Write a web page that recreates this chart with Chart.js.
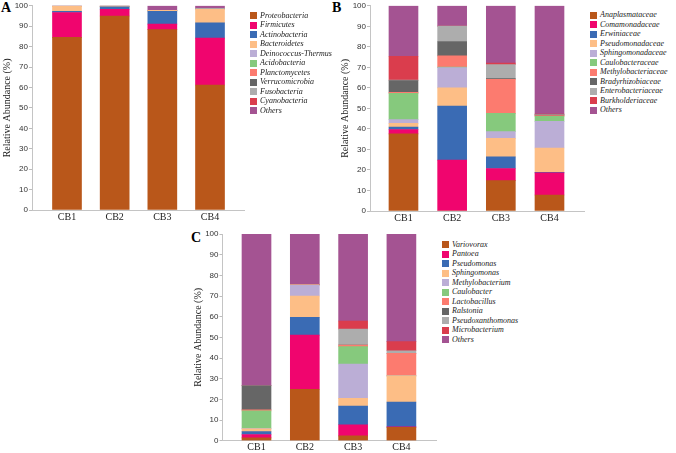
<!DOCTYPE html>
<html>
<head>
<meta charset="utf-8">
<script src="https://cdn.jsdelivr.net/npm/chart.js@4.4.1/dist/chart.umd.min.js"></script>
<style>
  body { margin:0; width:676px; height:453px; background:#fff; position:relative; overflow:hidden; }
  .panel { position:absolute; }
  .tag { position:absolute; font-family:'Liberation Serif', serif; font-weight:bold; font-size:14px; line-height:14px; color:#000; }
  .legend { position:absolute; font-family:'Liberation Serif', serif; font-style:italic; font-size:8px; color:#222; }
  .legend div { position:absolute; left:0; height:9.5px; line-height:9.5px; white-space:nowrap; }
  .legend span.box { position:absolute; left:0; top:1.5px; width:7px; height:7px; }
  .legend span.txt { position:absolute; left:10px; top:0; }
</style>
</head>
<body>
<div class="tag" style="left:1px;top:1px">A</div>
<div class="tag" style="left:332px;top:1px">B</div>
<div class="tag" style="left:191px;top:231px">C</div>

<div class="panel" style="left:0;top:0;width:250px;height:225px"><canvas id="chartA"></canvas></div>
<div class="panel" style="left:330px;top:0;width:260px;height:225px"><canvas id="chartB"></canvas></div>
<div class="panel" style="left:160px;top:225px;width:282px;height:228px"><canvas id="chartC"></canvas></div>

<div class="legend" id="legA" style="left:250px;top:10.5px"></div>
<div class="legend" id="legB" style="left:590px;top:10px"></div>
<div class="legend" id="legC" style="left:442px;top:239.5px"></div>

<script>
// ---------- data ----------
const categories = ['CB1', 'CB2', 'CB3', 'CB4'];

const phylumNames = ['Proteobacteria', 'Firmicutes', 'Actinobacteria', 'Bacteroidetes', 'Deinococcus-Thermus',
  'Acidobacteria', 'Planctomycetes', 'Verrucomicrobia', 'Fusobacteria', 'Cyanobacteria', 'Others'];
const phylumValues = [
  [84.5, 95.0, 88.3, 61.2],
  [12.2, 3.3, 2.7, 23.0],
  [0.6, 1.2, 6.3, 7.4],
  [2.5, 0.4, 0.5, 6.7],
  [0.1, 0.0, 0.0, 0.2],
  [0.0, 0.0, 0.0, 0.0],
  [0.0, 0.0, 0.0, 0.0],
  [0.0, 0.0, 0.0, 0.0],
  [0.0, 0.0, 0.0, 0.0],
  [0.0, 0.0, 0.0, 0.0],
  [0.1, 0.1, 2.2, 1.5]
];

const familyNames = ['Anaplasmataceae', 'Comamonadaceae', 'Erwiniaceae', 'Pseudomonadaceae', 'Sphingomonadaceae',
  'Caulobacteraceae', 'Methylobacteriaceae', 'Bradyrhizobiaceae', 'Enterobacteriaceae', 'Burkholderiaceae', 'Others'];
const familyValues = [
  [37.6, 0.0, 14.8, 7.8],
  [2.1, 24.8, 5.9, 10.8],
  [1.2, 26.3, 5.7, 0.3],
  [1.8, 8.9, 9.0, 11.8],
  [1.8, 9.9, 3.3, 13.0],
  [12.8, 0.2, 8.9, 2.4],
  [0.5, 5.5, 16.6, 0.4],
  [5.8, 7.0, 0.3, 0.3],
  [0.2, 7.5, 6.8, 0.2],
  [11.6, 0.0, 0.8, 0.2],
  [24.6, 9.9, 27.9, 52.8]
];

const genusNames = ['Variovorax', 'Pantoea', 'Pseudomonas', 'Sphingomonas', 'Methylobacterium',
  'Caulobacter', 'Lactobacillus', 'Ralstonia', 'Pseudoxanthomonas', 'Microbacterium', 'Others'];
const genusValues = [
  [1.4, 24.9, 2.3, 6.5],
  [1.6, 26.2, 5.4, 0.2],
  [1.4, 8.6, 9.1, 12.0],
  [1.3, 10.3, 3.7, 12.7],
  [0.2, 5.3, 16.6, 0.0],
  [8.5, 0.0, 8.4, 0.0],
  [0.5, 0.3, 0.8, 10.9],
  [11.7, 0.0, 0.0, 0.0],
  [0.0, 0.0, 7.7, 1.2],
  [0.0, 0.0, 3.9, 4.4],
  [73.4, 24.4, 42.1, 52.1]
];

const yTicks = [0, 10, 20, 30, 40, 50, 60, 70, 80, 90, 100];
const yTitle = 'Relative Abundance (%)';

const palette = ['#B9571A', '#F0056E', '#3A6BB4', '#FDBE86', '#BBAED6', '#86C97D',
  '#FC7B6F', '#666666', '#ADADAD', '#DA3D4D', '#A45392'];

// ---------- build ----------
function makeChart(id, names, values, o) {
  const datasets = names.map((n, s) => ({
    label: n,
    data: values[s].map((v, i) => ({ x: i, y: v })),
    backgroundColor: palette[s],
    borderWidth: 0,
    barThickness: 29
  }));
  return new Chart(document.getElementById(id), {
    type: 'bar',
    data: { datasets },
    options: {
      responsive: true,
      maintainAspectRatio: false,
      animation: false,
      layout: { padding: { left: o.padLeft, right: o.padRight, top: o.padTop, bottom: 0 } },
      plugins: { legend: { display: false }, tooltip: { enabled: false } },
      scales: {
        x: {
          type: 'linear',
          stacked: true,
          offset: false,
          min: o.min, max: o.max,
          afterBuildTicks: s => { s.ticks = categories.map((c, i) => ({ value: i })); },
          afterFit: s => { s.height = o.xHeight; },
          grid: { display: false, drawTicks: false, tickLength: 0 },
          border: { display: true, color: '#c4c4c4', width: 1 },
          ticks: {
            padding: 1,
            color: '#222',
            font: { family: 'Liberation Serif', size: 10 },
            callback: v => categories[v]
          }
        },
        y: {
          stacked: true,
          min: 0, max: 100,
          afterBuildTicks: s => { s.ticks = yTicks.map(v => ({ value: v })); },
          afterFit: s => { s.width = o.yWidth; },
          grid: { display: true, drawOnChartArea: false, drawTicks: true, tickLength: 3, color: '#bdbdbd' },
          border: { display: true, color: '#c4c4c4', width: 1 },
          ticks: {
            padding: 1,
            color: '#333',
            font: { family: 'Liberation Sans', size: 8 }
          },
          title: {
            display: true,
            text: yTitle,
            color: '#222',
            font: { family: 'Liberation Serif', size: 10 },
            padding: { top: 1, bottom: 0 }
          }
        }
      }
    }
  });
}

function makeLegend(id, names) {
  const el = document.getElementById(id);
  names.forEach((n, s) => {
    const row = document.createElement('div');
    row.style.top = (s * 9.5) + 'px';
    row.innerHTML = '<span class="box" style="background:' + palette[s] + '"></span><span class="txt"></span>';
    row.querySelector('.txt').textContent = n;
    el.appendChild(row);
  });
}

makeChart('chartA', phylumNames, phylumValues,
  { padLeft: 0, yWidth: 32, padRight: 6, padTop: 5, xHeight: 15, min: -0.734, max: 3.713 });
makeChart('chartB', familyNames, familyValues,
  { padLeft: 8, yWidth: 32, padRight: 6, padTop: 5, xHeight: 14, min: -0.688, max: 3.709 });
makeChart('chartC', genusNames, genusValues,
  { padLeft: 31, yWidth: 31.5, padRight: 6, padTop: 9, xHeight: 12.3, min: -0.704, max: 3.716 });

makeLegend('legA', phylumNames);
makeLegend('legB', familyNames);
makeLegend('legC', genusNames);
</script>
</body>
</html>
